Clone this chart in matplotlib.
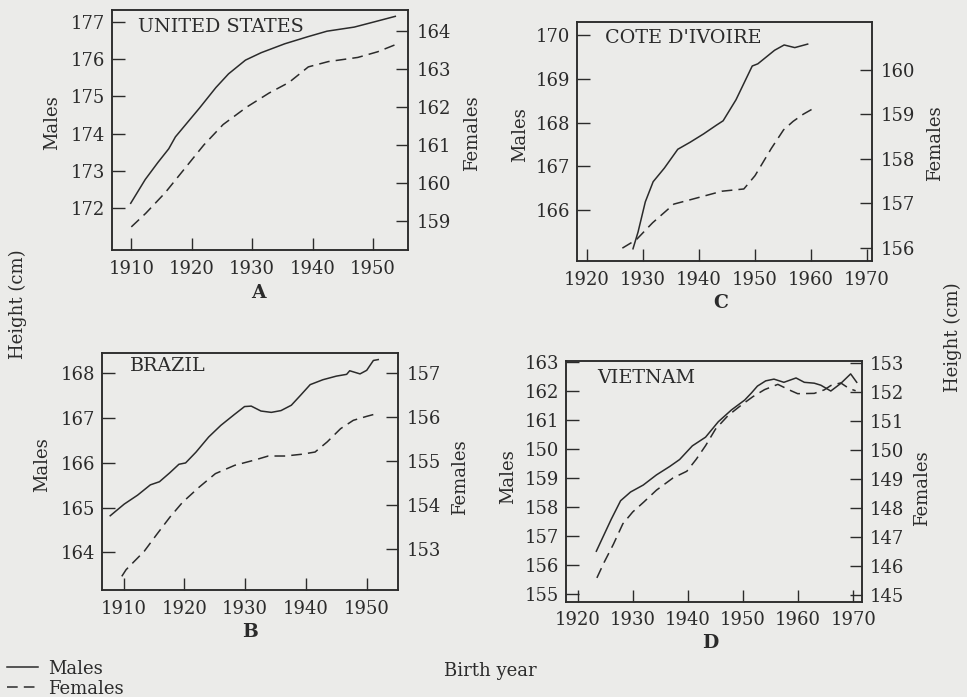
import matplotlib
matplotlib.use("Agg")
import matplotlib.pyplot as plt

plt.rcParams["font.family"] = ["DejaVu Serif"]
plt.rcParams["font.size"] = 13

INK = "#2b2b2b"
BG = "#ebebe9"

# ── Data ────────────────────────────────────────────────────────────────────
# A – United States
us_m_year = [1909.9, 1912.3, 1914.4, 1916.2, 1917.3, 1919.4, 1921.3, 1924.0, 1926.1,
             1928.9, 1931.5, 1935.4, 1939.2, 1942.4, 1946.9, 1950.2, 1953.7]
us_m = [172.12, 172.76, 173.22, 173.59, 173.91, 174.32, 174.69, 175.24, 175.61,
        175.98, 176.18, 176.42, 176.61, 176.76, 176.87, 177.01, 177.16]
us_f_year = [1910.0, 1912.4, 1915.6, 1918.8, 1922.0, 1925.2, 1929.1, 1932.8, 1936.1,
             1939.3, 1942.6, 1947.5, 1950.8, 1954.4]
us_f = [158.84, 159.20, 159.74, 160.37, 161.00, 161.54, 162.00, 162.37, 162.65,
        163.06, 163.20, 163.31, 163.46, 163.69]

# B – Brazil
br_m_year = [1907.8, 1910.1, 1912.3, 1914.4, 1915.9, 1917.6, 1919.1, 1920.2, 1921.9,
             1924.0, 1926.0, 1928.2, 1929.9, 1931.0, 1932.6, 1934.3, 1935.9, 1937.6,
             1939.1, 1940.7, 1942.8, 1945.0, 1946.7, 1947.2, 1948.9, 1950.0, 1951.1,
             1951.9]
br_m = [164.82, 165.08, 165.28, 165.51, 165.58, 165.78, 165.97, 166.00, 166.24,
        166.58, 166.84, 167.08, 167.26, 167.27, 167.16, 167.13, 167.17, 167.29,
        167.51, 167.75, 167.86, 167.94, 167.98, 168.06, 167.99, 168.07, 168.29,
        168.31]
br_f_year = [1909.7, 1910.4, 1913.4, 1915.5, 1917.6, 1919.7, 1922.4, 1925.1, 1928.3,
             1931.6, 1933.8, 1936.6, 1939.3, 1941.5, 1943.5, 1945.7, 1947.8, 1950.0,
             1951.9]
br_f = [152.39, 152.54, 152.96, 153.35, 153.73, 154.07, 154.41, 154.72, 154.91,
        155.03, 155.12, 155.12, 155.16, 155.21, 155.44, 155.74, 155.93, 156.02,
        156.09]

# C – Cote d'Ivoire
ci_m_year = [1928.2, 1929.1, 1930.4, 1931.8, 1933.8, 1936.2, 1938.4, 1940.8, 1943.1,
             1944.3, 1946.6, 1949.5, 1950.5, 1953.5, 1955.2, 1957.1, 1959.4]
ci_m = [165.12, 165.50, 166.19, 166.65, 166.96, 167.39, 167.55, 167.74, 167.94,
        168.04, 168.52, 169.29, 169.34, 169.65, 169.77, 169.71, 169.79]
ci_f_year = [1926.3, 1928.8, 1931.7, 1935.5, 1938.2, 1944.1, 1948.0, 1950.0, 1952.9,
             1955.1, 1956.8, 1958.6, 1960.7]
ci_f = [155.99, 156.18, 156.56, 156.98, 157.07, 157.27, 157.32, 157.62, 158.23,
        158.65, 158.84, 159.00, 159.15]

# D – Vietnam
vn_m_year = [1923.4, 1924.7, 1926.1, 1927.8, 1929.6, 1931.9, 1934.3, 1936.7, 1938.5,
             1940.8, 1943.2, 1945.5, 1947.9, 1950.3, 1951.5, 1952.6, 1954.1, 1955.6,
             1957.4, 1959.6, 1961.1, 1962.9, 1964.1, 1965.9, 1967.7, 1969.5, 1970.6]
vn_m = [156.49, 157.02, 157.59, 158.23, 158.53, 158.77, 159.12, 159.41, 159.65,
        160.12, 160.42, 160.95, 161.36, 161.70, 161.94, 162.18, 162.36, 162.42,
        162.31, 162.46, 162.31, 162.28, 162.21, 162.01, 162.27, 162.60, 162.31]
vn_f_year = [1923.5, 1924.8, 1926.5, 1928.2, 1930.0, 1932.0, 1934.3, 1937.3, 1939.8,
             1941.5, 1943.2, 1945.0, 1947.3, 1949.7, 1951.8, 1953.9, 1956.3, 1958.7,
             1959.9, 1962.9, 1964.7, 1965.9, 1967.7, 1969.2, 1970.4]
vn_f = [145.59, 146.12, 146.75, 147.45, 147.86, 148.20, 148.61, 149.03, 149.26,
        149.67, 150.14, 150.71, 151.18, 151.54, 151.83, 152.07, 152.25, 152.03,
        151.93, 151.94, 152.06, 152.21, 152.30, 152.11, 152.03]

# tick values / labels
us_xticks = [1910, 1920, 1930, 1940, 1950]
us_mticks = [172, 173, 174, 175, 176, 177]
us_fticks = [159, 160, 161, 162, 163, 164]
br_xticks = [1910, 1920, 1930, 1940, 1950]
br_mticks = [164, 165, 166, 167, 168]
br_fticks = [153, 154, 155, 156, 157]
ci_xticks = [1920, 1930, 1940, 1950, 1960, 1970]
ci_mticks = [166, 167, 168, 169, 170]
ci_fticks = [156, 157, 158, 159, 160]
vn_xticks = [1920, 1930, 1940, 1950, 1960, 1970]
vn_mticks = [155, 156, 157, 158, 159, 160, 161, 162, 163]
vn_mlabels = ["155", "156", "157", "158", "159", "150", "161", "162", "163"]  # as printed
vn_fticks = [145, 146, 147, 148, 149, 150, 151, 152, 153]

# ── Figure ──────────────────────────────────────────────────────────────────
fig = plt.figure(figsize=(9.67, 6.97), dpi=100, facecolor=BG)

panels = [
    dict(name="UNITED STATES", letter="A", rect=[0.1158, 0.6413, 0.3061, 0.3443],
         xlim=(1906.8, 1955.8), mlim=(170.86, 177.33), flim=(158.23, 164.56),
         m=(us_m_year, us_m), f=(us_f_year, us_f),
         xt=us_xticks, mt=us_mticks, ml=None, ft=us_fticks,
         tpos=(0.088, 0.93), lpos=(0.267, 0.580),
         males=(0.0538, 0.8235), females=(0.4881, 0.8092)),
    dict(name="COTE D'IVOIRE", letter="C", rect=[0.5967, 0.6255, 0.3051, 0.3433],
         xlim=(1918.2, 1970.9), mlim=(164.84, 170.30), flim=(155.70, 161.08),
         m=(ci_m_year, ci_m), f=(ci_f_year, ci_f),
         xt=ci_xticks, mt=ci_mticks, ml=None, ft=ci_fticks,
         tpos=(0.095, 0.932), lpos=(0.745, 0.565),
         males=(0.5377, 0.8063), females=(0.9669, 0.7948)),
    dict(name="BRAZIL", letter="B", rect=[0.1052, 0.1535, 0.3067, 0.3396],
         xlim=(1906.4, 1955.2), mlim=(163.16, 168.45), flim=(152.08, 157.45),
         m=(br_m_year, br_m), f=(br_f_year, br_f),
         xt=br_xticks, mt=br_mticks, ml=None, ft=br_fticks,
         tpos=(0.095, 0.946), lpos=(0.259, 0.093),
         males=(0.0434, 0.3329), females=(0.4757, 0.3156)),
    dict(name="VIETNAM", letter="D", rect=[0.5853, 0.1367, 0.3058, 0.3456],
         xlim=(1917.9, 1971.5), mlim=(154.75, 163.05), flim=(144.77, 153.06),
         m=(vn_m_year, vn_m), f=(vn_f_year, vn_f),
         xt=vn_xticks, mt=vn_mticks, ml=vn_mlabels, ft=vn_fticks,
         tpos=(0.104, 0.927), lpos=(0.734, 0.077),
         males=(0.5253, 0.3156), females=(0.9535, 0.2999)),
]

handles = None
for p in panels:
    ax = fig.add_axes(p["rect"])
    ax.set_facecolor("none")
    ax2 = ax.twinx()

    lm, = ax.plot(*p["m"], color=INK, lw=1.1, label="Males")
    lf, = ax2.plot(*p["f"], color=INK, lw=1.1, dashes=(7, 4), label="Females")
    if handles is None:
        handles = [lm, lf]

    ax.set_xlim(*p["xlim"])
    ax.set_ylim(*p["mlim"])
    ax2.set_ylim(*p["flim"])
    ax.set_xticks(p["xt"])
    ax.set_yticks(p["mt"])
    if p["ml"] is not None:
        ax.set_yticklabels(p["ml"])
    ax2.set_yticks(p["ft"])

    ax.tick_params(axis="both", direction="in", length=9, width=1.0, colors=INK,
                   labelsize=13, pad=5, right=False, top=False)
    ax.tick_params(axis="x", pad=7)
    ax2.tick_params(axis="y", direction="in", length=9, width=1.0, colors=INK,
                    labelsize=13, pad=6)
    for a in (ax, ax2):
        for s in a.spines.values():
            s.set_color(INK)
            s.set_linewidth(1.1)

    ax.text(*p["tpos"], p["name"], transform=ax.transAxes, ha="left", va="center",
            fontsize=13.8, color=INK)
    fig.text(*p["lpos"], p["letter"], ha="center", va="center",
             fontsize=13.5, fontweight="bold", color=INK)
    fig.text(*p["males"], "Males", rotation=90, ha="center", va="center",
             fontsize=13, color=INK)
    fig.text(*p["females"], "Females", rotation=90, ha="center", va="center",
             fontsize=13, color=INK)

fig.text(0.0186, 0.5638, "Height (cm)", rotation=90, ha="center", va="center",
         fontsize=13, color=INK)
fig.text(0.9855, 0.5165, "Height (cm)", rotation=90, ha="center", va="center",
         fontsize=13, color=INK)
fig.text(0.5067, 0.0373, "Birth year", ha="center", va="center",
         fontsize=13, color=INK)

leg = fig.legend(handles=handles, loc="lower left", bbox_to_anchor=(0.004, -0.006),
                 frameon=False, fontsize=13, handlelength=1.7, handletextpad=0.55,
                 labelspacing=0.1, borderpad=0.2, borderaxespad=0)
for t in leg.get_texts():
    t.set_color(INK)

fig.savefig("out.png", dpi=100, facecolor=BG)
